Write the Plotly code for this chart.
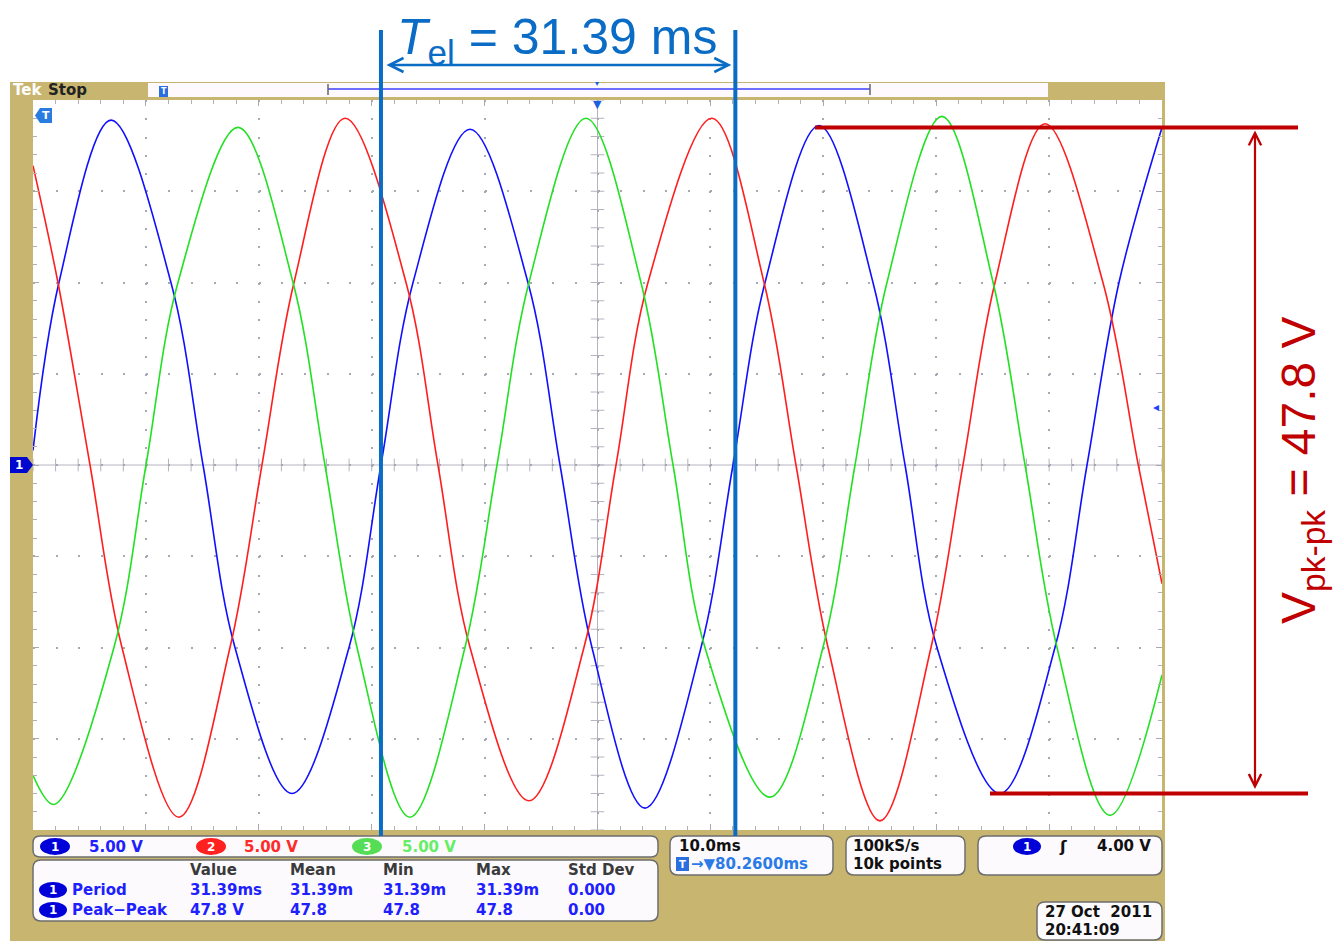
import plotly.graph_objects as go
import numpy as np

W, H = 1335, 941

# ---------------- data (time in ms, voltage in V) ----------------
blue_t = [0.0, 2.30, 6.91, 12.22, 15.06, 17.89, 22.94, 27.99, 30.82, 33.66, 38.71, 43.84, 46.68,
          49.51, 54.21, 59.17, 62.00, 64.84, 69.62, 74.40, 77.24, 80.07, 85.65, 90.52, 93.36, 96.19, 100.0]
blue_v = [0.8, 10.0, 18.9, 10.0, 0.0, -10.0, -18.0, -10.0, 0.0, 10.0, 18.4, 10.0, 0.0,
          -10.0, -18.8, -10.0, 0.0, 10.0, 18.6, 10.0, 0.0, -10.0, -18.0, -10.0, 0.0, 10.0, 18.5]

red_t = [0.0, 2.21, 5.05, 7.88, 12.93, 17.45, 20.28, 23.12, 27.64, 33.04, 35.87, 38.71, 43.93, 48.80,
         51.64, 54.47, 60.14, 64.75, 67.58, 70.42, 75.02, 79.54, 82.37, 85.21, 89.64, 94.77, 97.90, 100.0]
red_v = [16.4, 10.0, 0.0, -10.0, -19.3, -10.0, 0.0, 10.0, 19.0, 10.0, 0.0, -10.0, -18.4, -10.0,
         0.0, 10.0, 19.0, 10.0, 0.0, -10.0, -19.5, -10.0, 0.0, 10.0, 18.7, 10.0, 0.0, -6.5]

green_t = [0.0, 1.86, 7.17, 10.01, 12.84, 18.16, 23.03, 25.86, 28.70, 33.39, 38.26, 41.10, 43.93,
           48.98, 53.85, 56.69, 59.52, 65.28, 69.97, 72.81, 75.64, 80.51, 85.04, 87.87, 90.70, 95.39, 100.0]
green_v = [-17.0, -18.6, -10.0, 0.0, 10.0, 18.5, 10.0, 0.0, -10.0, -19.3, -10.0, 0.0, 10.0,
           19.0, 10.0, 0.0, -10.0, -18.2, -10.0, 0.0, 10.0, 19.1, 10.0, 0.0, -10.0, -19.2, -11.5]

TEL_START = 30.82      # ms, rising zero crossing of channel 1
TEL_PERIOD = 31.39     # ms
V_TOP = 18.5           # V, peak used for the Vpk-pk marker
V_BOT = -18.0          # V

channel_labels = ["1", "2", "3"]
channel_scales = ["5.00 V", "5.00 V", "5.00 V"]
meas_headers = ["Value", "Mean", "Min", "Max", "Std Dev"]
meas_names = ["Period", "Peak\u2212Peak"]
meas_values = [["31.39ms", "31.39m", "31.39m", "31.39m", "0.000"],
               ["47.8 V", "47.8", "47.8", "47.8", "0.00"]]
timebase_text = ["10.0ms", "80.2600ms"]
sample_text = ["100kS/s", "10k points"]
trigger_text = "4.00 V"
date_text = ["27 Oct  2011", "20:41:09"]

# ---------------- helpers ----------------
def X(px):
    return px / W

def Y(py):
    return 1 - py / H

def ppath(points):
    return "M " + " L ".join(f"{X(a):.5f},{Y(b):.5f}" for a, b in points) + " Z"

def rrect(x0, y0, x1, y1, r=7):
    p = [
        f"M {X(x0 + r):.5f},{Y(y0):.5f}",
        f"L {X(x1 - r):.5f},{Y(y0):.5f}",
        f"Q {X(x1):.5f},{Y(y0):.5f} {X(x1):.5f},{Y(y0 + r):.5f}",
        f"L {X(x1):.5f},{Y(y1 - r):.5f}",
        f"Q {X(x1):.5f},{Y(y1):.5f} {X(x1 - r):.5f},{Y(y1):.5f}",
        f"L {X(x0 + r):.5f},{Y(y1):.5f}",
        f"Q {X(x0):.5f},{Y(y1):.5f} {X(x0):.5f},{Y(y1 - r):.5f}",
        f"L {X(x0):.5f},{Y(y0 + r):.5f}",
        f"Q {X(x0):.5f},{Y(y0):.5f} {X(x0 + r):.5f},{Y(y0):.5f} Z",
    ]
    return " ".join(p)

TAN = "#c8b670"
BOXFILL = "#fdfafd"
BOXLINE = "#6e6e6e"
FONT = "DejaVu Sans"
CH_COLORS = ["#1010ff", "#ff1e1e", "#22e022"]
PILL_COLORS = ["#0000d8", "#ff2020", "#55dd55"]
TXT_COLORS = ["#2020ff", "#ff2a2a", "#66ee66"]
TEL_COLOR = "#0a6cc4"
VPP_COLOR = "#c00000"

PL, PR, PT, PB = 33, 1162, 100, 830

fig = go.Figure()
for t, v, c in [(blue_t, blue_v, CH_COLORS[0]), (red_t, red_v, CH_COLORS[1]), (green_t, green_v, CH_COLORS[2])]:
    fig.add_trace(go.Scatter(x=t, y=v, mode="lines", line=dict(color=c, width=1.6, shape="spline", smoothing=1.0),
                             showlegend=False, hoverinfo="skip"))

shapes = []
annos = []

def txt(x, y, s, color, size=15, anchor="left", bold=True, family=FONT):
    annos.append(dict(x=X(x), y=Y(y), xref="paper", yref="paper", text=(f"<b>{s}</b>" if bold else s),
                      showarrow=False, xanchor=anchor, yanchor="middle",
                      font=dict(family=family, size=size, color=color)))

# tan oscilloscope frame around plot area
for x0, y0, x1, y1 in [(10, 82, 1165, PT), (10, PT, PL, PB), (PR, PT, 1165, PB), (10, PB, 1165, 941)]:
    shapes.append(dict(type="rect", xref="paper", yref="paper", x0=X(x0), x1=X(x1), y0=Y(y1), y1=Y(y0),
                       fillcolor=TAN, line=dict(width=0), layer="above"))
# record bar
shapes.append(dict(type="rect", xref="paper", yref="paper", x0=X(148), x1=X(1048), y0=Y(97), y1=Y(83),
                   fillcolor="#fdf9fd", line=dict(width=0), layer="above"))
shapes.append(dict(type="line", xref="paper", yref="paper", x0=X(328), x1=X(870), y0=Y(89), y1=Y(89),
                   line=dict(color="#6f6fff", width=2), layer="above"))
for bx in (328, 870):
    shapes.append(dict(type="line", xref="paper", yref="paper", x0=X(bx), x1=X(bx), y0=Y(95), y1=Y(84),
                       line=dict(color="#666666", width=1.5), layer="above"))
# record bar T icon
shapes.append(dict(type="rect", xref="paper", yref="paper", x0=X(159), x1=X(168), y0=Y(97), y1=Y(86),
                   fillcolor="#2a6ee0", line=dict(width=0), layer="above"))
txt(163.5, 91.5, "T", "white", size=8, anchor="center")

# center cross with tick marks
cp = ["M 50,-20 L 50,20", "M 0,0 L 100,0"]
for tt in np.arange(0, 100.01, 2):
    cp.append(f"M {tt:.2f},-0.35 L {tt:.2f},0.35")
for vv in np.arange(-20, 20.01, 1):
    cp.append(f"M 49.4,{vv:.2f} L 50.6,{vv:.2f}")
shapes.append(dict(type="path", xref="x", yref="y", path=" ".join(cp), line=dict(color="#b4b4c0", width=1),
                   layer="below"))

# channel 1 ground marker
shapes.append(dict(type="path", xref="paper", yref="paper",
                   path=ppath([(10, 457), (27, 457), (33, 465), (27, 473), (10, 473)]),
                   fillcolor="#0008d0", line=dict(width=0), layer="above"))
txt(19, 465, "1", "white", size=12, anchor="center")
# trigger-time marker inside plot
shapes.append(dict(type="path", xref="paper", yref="paper",
                   path=ppath([(52, 108), (40, 108), (35, 115.5), (40, 123), (52, 123)]),
                   fillcolor="#2a7de0", line=dict(width=0), layer="above"))
txt(46, 115.5, "T", "white", size=11, anchor="center")
txt(597, 104, "\u25bc", "#1a5fe0", size=11, anchor="center", bold=False)
txt(597, 83, "\u25be", "#1a5fe0", size=8, anchor="center", bold=False)
txt(1156, 407, "\u25c2", "#2040ff", size=12, anchor="center", bold=False)

# Tek Stop
txt(11, 90, "Tek", "white", size=15)
txt(46, 90, "Stop", "#222222", size=15)

# bottom boxes
for bx in [(33, 836, 658, 857, 7), (33, 860, 658, 921, 8), (670, 836, 833, 875, 8),
           (846, 836, 965, 875, 8), (978, 836, 1162, 875, 8), (1037, 902, 1162, 940, 8)]:
    shapes.append(dict(type="path", xref="paper", yref="paper", path=rrect(*bx), fillcolor=BOXFILL,
                       line=dict(color=BOXLINE, width=1.5), layer="above"))

def pill(cx, cy, color, label, w=28, h=16, fs=12):
    shapes.append(dict(type="circle", xref="paper", yref="paper", x0=X(cx - w / 2), x1=X(cx + w / 2),
                       y0=Y(cy + h / 2), y1=Y(cy - h / 2), fillcolor=color, line=dict(width=0), layer="above"))
    txt(cx, cy, label, "white", size=fs, anchor="center")

for i, (px_pill, px_txt) in enumerate([(55, 87), (211, 242), (367, 400)]):
    pill(px_pill, 846.5, PILL_COLORS[i], channel_labels[i], w=30, h=17)
    txt(px_txt, 846.5, channel_scales[i], TXT_COLORS[i], size=15)

col_x = [188, 288, 381, 474, 566]
for cx, hd in zip(col_x, meas_headers):
    txt(cx, 870, hd, "#3a3a3a", size=15)
for r, (nm, vals) in enumerate(zip(meas_names, meas_values)):
    yy = 890 + 20 * r
    pill(53, yy, "#0000d8", "1", w=28, h=16)
    txt(70, yy, nm, "#2020ff", size=15)
    for cx, vv in zip(col_x, vals):
        txt(cx, yy, vv, "#2020ff", size=15)

txt(677, 846, timebase_text[0], "#111111", size=15)
shapes.append(dict(type="rect", xref="paper", yref="paper", x0=X(676), x1=X(689), y0=Y(871), y1=Y(857),
                   fillcolor="#2a6ee0", line=dict(width=0), layer="above"))
txt(682.5, 864, "T", "white", size=10, anchor="center")
txt(689, 864, "\u2192\u25bc" + timebase_text[1], "#2a7ae8", size=15)
txt(851, 846, sample_text[0], "#111111", size=15)
txt(851, 864, sample_text[1], "#111111", size=15)
pill(1027, 846.5, "#0000d8", "1", w=28, h=17)
txt(1063, 846, "\u0283", "#111111", size=16, anchor="center")
txt(1153, 846, trigger_text, "#111111", size=15, anchor="right")
txt(1043, 912, date_text[0], "#111111", size=15)
txt(1043, 930, date_text[1], "#111111", size=15)

# ---------------- Tel annotation ----------------
PX_PER_MS = (PR - PL) / 100.0
TEL_END = TEL_START + TEL_PERIOD
for tx in (TEL_START, TEL_END):
    shapes.append(dict(type="line", xref="x", yref="paper", x0=tx, x1=tx, y0=Y(836), y1=Y(30),
                       line=dict(color=TEL_COLOR, width=4), layer="above"))
annos.append(dict(x=TEL_END, y=Y(65), xref="x", yref="paper", axref="pixel", ayref="pixel",
                  ax=-TEL_PERIOD * PX_PER_MS, ay=0, text="", showarrow=True, arrowhead=5, startarrowhead=5,
                  arrowside="end+start", arrowsize=1.1, startarrowsize=1.1, arrowwidth=2.5,
                  arrowcolor=TEL_COLOR, standoff=4, startstandoff=4))
annos.append(dict(x=X(557), y=Y(40), xref="paper", yref="paper", xanchor="center", yanchor="middle",
                  text=f"<i>T</i><sub>el</sub> = {TEL_PERIOD:.2f} ms", showarrow=False,
                  font=dict(family="Liberation Sans", size=50, color=TEL_COLOR)))

# ---------------- Vpk-pk annotation ----------------
shapes.append(dict(type="line", xref="paper", yref="y", x0=X(815), x1=X(1298), y0=V_TOP, y1=V_TOP,
                   line=dict(color=VPP_COLOR, width=4), layer="above"))
shapes.append(dict(type="line", xref="paper", yref="y", x0=X(990), x1=X(1308), y0=V_BOT, y1=V_BOT,
                   line=dict(color=VPP_COLOR, width=4), layer="above"))
annos.append(dict(x=X(1255), y=V_TOP, xref="paper", yref="y", axref="pixel", ayref="y", ax=0, ay=V_BOT,
                  text="", showarrow=True, arrowhead=5, startarrowhead=5, arrowside="end+start",
                  arrowsize=1.1, startarrowsize=1.1, arrowwidth=2.2, arrowcolor=VPP_COLOR,
                  standoff=3, startstandoff=3))
annos.append(dict(x=X(1302), y=Y(470), xref="paper", yref="paper", xanchor="center", yanchor="middle",
                  textangle=-90, text="V<sub>pk-pk</sub> = 47.8 V", showarrow=False,
                  font=dict(family="Liberation Sans", size=48, color=VPP_COLOR)))

fig.update_layout(
    width=W, height=H, margin=dict(l=0, r=0, t=0, b=0),
    paper_bgcolor="white", plot_bgcolor="white", showlegend=False,
    xaxis=dict(domain=[X(PL), X(PR)], range=[0, 100], showticklabels=False, zeroline=False,
               showgrid=True, tick0=0, dtick=10, gridcolor="#a8a8b4", gridwidth=1.5, griddash="2px,16.25px",
               showline=True, linecolor="#8a7848", linewidth=2, mirror="allticks",
               ticks="inside", ticklen=6, tickcolor="#a8a8b0",
               minor=dict(dtick=2, ticks="inside", ticklen=4, tickcolor="#b0b0b8", showgrid=False),
               fixedrange=True),
    yaxis=dict(domain=[Y(PB), Y(PT)], range=[-20, 20], showticklabels=False, zeroline=False,
               showgrid=True, tick0=0, dtick=5, gridcolor="#a8a8b4", gridwidth=1.5, griddash="2px,20.58px",
               showline=True, linecolor="#8a7848", linewidth=2, mirror="allticks",
               ticks="inside", ticklen=6, tickcolor="#a8a8b0",
               minor=dict(dtick=1, ticks="inside", ticklen=4, tickcolor="#b0b0b8", showgrid=False),
               fixedrange=True),
    shapes=shapes, annotations=annos,
)

fig.write_html("out.html", config={"displayModeBar": False},
               post_script="document.body.style.margin='0';document.body.style.overflow='hidden';")
